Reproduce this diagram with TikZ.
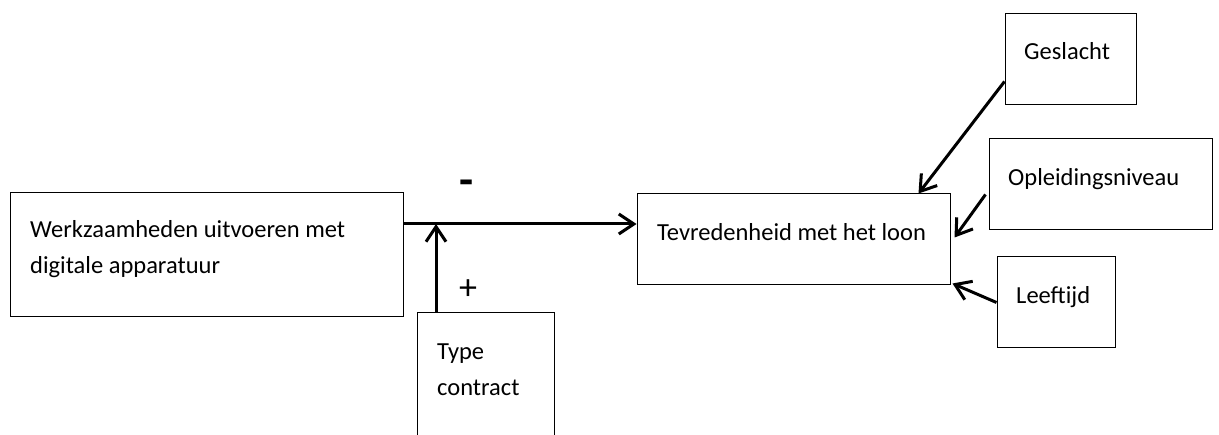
\documentclass[tikz,border=0pt]{standalone}
\usepackage{fontspec}
\setmainfont{Carlito}
\usetikzlibrary{arrows.meta,positioning}
\tikzset{vak/.style={draw,rectangle,line width=1pt,inner sep=0},
    tekst/.style={anchor=base west,inner sep=0,align=left,font=\fontsize{24.5}{36}\selectfont},
    teken/.style={inner sep=0,font=\fontsize{36}{36}\selectfont},
    pijl/.style={-{Straight Barb[length=15pt,width=20pt,line width=3pt]},line width=3pt}
}

\begin{document}
\begin{tikzpicture}[x=1pt,y=-1pt]
\useasboundingbox (0,0) rectangle (1219,435);
\clip (0,0) rectangle (1219,435);

\node (werk) at (206.5,255) [vak,minimum width=393pt,minimum height=124pt] {};
\node (type) at (485.5,386.5) [vak,minimum width=137pt,minimum height=147pt] {};
\node (tevr) at (793.5,239.5) [vak,minimum width=313pt,minimum height=91pt] {};
\node (gesl) at (1070.5,59.5) [vak,minimum width=131pt,minimum height=91pt] {};
\node (opl) at (1100.5,184.5) [vak,minimum width=223pt,minimum height=91pt] {};
\node (leef) at (1056,302.5) [vak,minimum width=118pt,minimum height=91pt] {};

% base = laatste regel
\node (werkT) at (30,274) [tekst] {Werkzaamheden uitvoeren met\\digitale apparatuur};
\node (typeT) at (437,396) [tekst] {Type\\contract};
\node (tevrT) at (657,241) [tekst] {Tevredenheid met het loon};
\node (geslT) at (1024,60) [tekst] {Geslacht};
\node (oplT) at (1008,186) [tekst] {Opleidingsniveau};
\node (leefT) at (1016,304) [tekst] {Leeftijd};

\node (min) at (467,188) [teken,font=\fontsize{46}{46}\selectfont] {\textbf{-}};
\node (plus) at (468,290) [teken] {+};

% pijlen
\coordinate (knoop) at (436,224);
\draw [pijl] (werk.east |- knoop) -- (tevr.west |- knoop);
\draw [pijl] (knoop |- type.north) -- (knoop);
\draw [pijl] ([yshift=24pt]gesl.south west) -- ([xshift=-32pt]tevr.north east);
\draw [pijl] ([xshift=-3pt,yshift=36pt]opl.south west) -- ([xshift=4pt,yshift=2pt]tevr.east);
\draw [pijl] (leef.west) -- ([xshift=2pt,yshift=2pt]tevr.south east);

\end{tikzpicture}
\end{document}
